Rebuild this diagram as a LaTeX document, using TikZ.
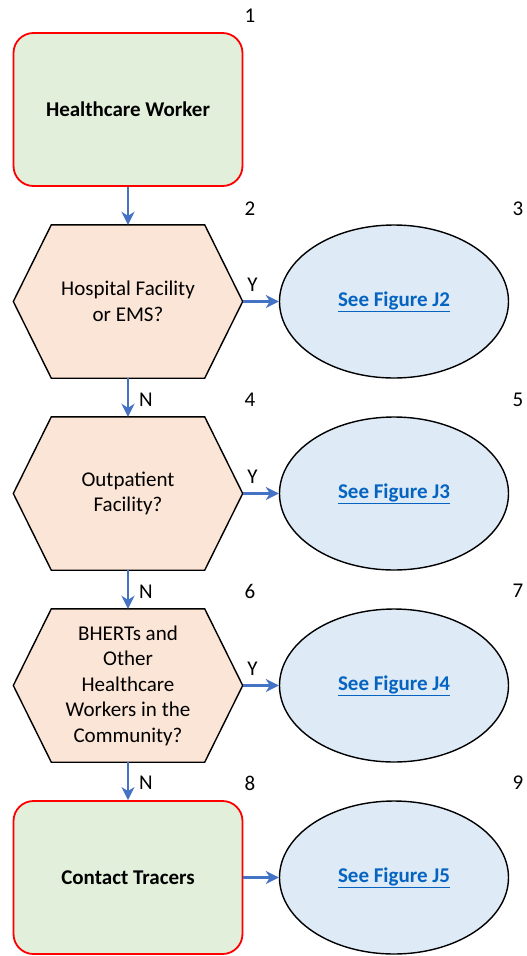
\documentclass[tikz,border=0pt]{standalone}
\usepackage{fontspec}
\setmainfont{Carlito}
\usetikzlibrary{arrows.meta,backgrounds,shapes.geometric}
\definecolor{boxgreen}{HTML}{E2EFDA}
\definecolor{hexorange}{HTML}{FBE5D6}
\definecolor{ovalblue}{HTML}{DEEBF7}
\definecolor{flowblue}{HTML}{4472C4}
\definecolor{linkblue}{HTML}{0563C1}
\definecolor{alertred}{HTML}{FF0000}
\newcommand{\figlink}[1]{\textcolor{linkblue}{\textbf{\underline{#1}}}}
\tikzset{
  base/.style={font=\fontsize{21}{25.5}\selectfont, align=center, text=black},
  startbox/.style={base, draw=alertred, line width=1.8pt, fill=boxgreen,
    rounded corners=20pt, minimum width=229pt, minimum height=153pt},
  hexnode/.style={base, minimum width=229pt, minimum height=153pt, inner sep=0pt},
  hexline/.style={draw=black, line width=1.4pt, fill=hexorange, line join=miter},
  oval/.style={base, ellipse, draw=black, line width=1.4pt, fill=ovalblue,
    minimum width=229pt, minimum height=153pt, inner sep=0pt},
  stepnum/.style={base, inner sep=0pt},
  flow/.style={draw=flowblue, line width=2.2pt,
    -{Stealth[length=13pt,width=13pt,inset=4pt]}},
  answer/.style={base, inner sep=0pt}
}
\begin{document}
\begin{tikzpicture}[x=1pt,y=-1pt]
  \useasboundingbox (0,0) rectangle (527,956);

  % process boxes
  \node[startbox] (b1) at (128,109.5) {\textbf{Healthcare Worker}};
  \node[startbox] (b8) at (128,877.5) {\textbf{Contact Tracers}};

  % decision nodes (outline drawn on the background layer below)
  \node[hexnode] (h2) at (128,301.5) {Hospital Facility\\or EMS?};
  \node[hexnode] (h4) at (128,493.5) {Outpatient\\Facility?};
  \node[hexnode] (h6) at (128,685.5) {BHERTs and\\Other\\Healthcare\\Workers in the\\Community?};

  \begin{scope}[on background layer]
    \fill[white] (0,0) rectangle (527,956);
    \foreach \h in {h2,h4,h6} {
      \path[hexline] (\h.west) -- ([xshift=38pt]\h.north west)
        -- ([xshift=-38pt]\h.north east) -- (\h.east)
        -- ([xshift=-38pt]\h.south east) -- ([xshift=38pt]\h.south west)
        -- cycle;
    }
  \end{scope}

  % references to other figures
  \node[oval] (e3) at (394,301.5) {\figlink{See Figure J2}};
  \node[oval] (e5) at (394,493.5) {\figlink{See Figure J3}};
  \node[oval] (e7) at (394,685.5) {\figlink{See Figure J4}};
  \node[oval] (e9) at (394,877.5) {\figlink{See Figure J5}};

  % step numbers
  \node[stepnum] (n1) at (250,16) {1};
  \node[stepnum] (n2) at (250,209) {2};
  \node[stepnum] (n3) at (518,209) {3};
  \node[stepnum] (n4) at (250,400) {4};
  \node[stepnum] (n5) at (518,400) {5};
  \node[stepnum] (n6) at (250,591) {6};
  \node[stepnum] (n7) at (518,591) {7};
  \node[stepnum] (n8) at (250,783) {8};
  \node[stepnum] (n9) at (518,783) {9};

  % connectors
  \draw[flow] (b1.south) -- (h2.north);
  \draw[flow] (h2.south) -- node[answer, pos=0.55, right=10pt] (a24) {N} (h4.north);
  \draw[flow] (h4.south) -- node[answer, pos=0.55, right=10pt] (a46) {N} (h6.north);
  \draw[flow] (h6.south) -- node[answer, pos=0.55, right=10pt] (a68) {N} (b8.north);
  \draw[flow] (h2.east) -- node[answer, pos=0.27, above=9pt] (a23) {Y} (e3.west);
  \draw[flow] (h4.east) -- node[answer, pos=0.27, above=9pt] (a45) {Y} (e5.west);
  \draw[flow] (h6.east) -- node[answer, pos=0.27, above=9pt] (a67) {Y} (e7.west);
  \draw[flow] (b8.east) -- (e9.west);
\end{tikzpicture}
\end{document}
